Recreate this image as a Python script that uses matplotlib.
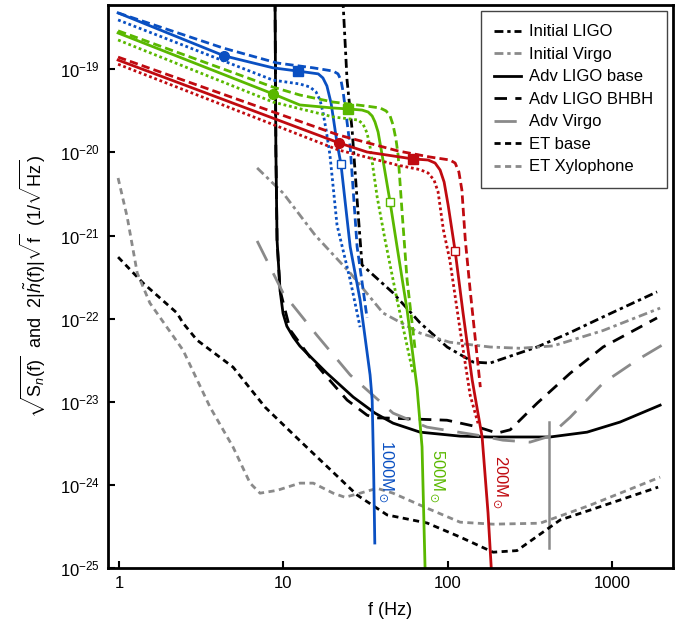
import numpy as np
import matplotlib
matplotlib.use("Agg")
import matplotlib.pyplot as plt

plt.rcParams['font.family'] = ['Liberation Sans', 'DejaVu Sans']
plt.rcParams['font.size'] = 12
plt.rcParams['mathtext.fontset'] = 'custom'
plt.rcParams['mathtext.rm'] = 'Liberation Sans'
plt.rcParams['mathtext.it'] = 'Liberation Sans:italic'
plt.rcParams['mathtext.default'] = 'regular'

# ── detector noise curves: sqrt(S_n(f)) ──────────────────────────────
f_ligo = [22.8, 24.4, 26.2, 28.1, 30.1, 46.5, 67.9, 99.2, 143, 181, 350, 556, 883, 1880]
h_ligo = [1e-18, 7.4e-20, 1.86e-20, 2.67e-21, 4.43e-22, 2.04e-22, 8.9e-23, 4.56e-23,
          3.0e-23, 2.92e-23, 4.56e-23, 6.8e-23, 1.05e-22, 2.1e-22]

f_virgo = [6.92, 9.96, 15.6, 25.5, 40.4, 67.9, 103, 181, 276, 438, 883, 1963]
h_virgo = [6.5e-21, 3.24e-21, 1.01e-21, 3.54e-22, 1.17e-22, 6.7e-23, 5.2e-23, 4.56e-23,
           4.4e-23, 4.7e-23, 7.2e-23, 1.34e-22]

f_aligo = [8.85, 8.9, 9.0, 9.15, 9.54, 9.95, 10.5, 11.5, 12.6, 13.9, 18.4, 26.6, 36.1, 46.5,
           67.9, 119, 181, 420, 705, 1119, 1963]
h_aligo = [1e-17, 6e-19, 1.06e-20, 8.8e-22, 2.2e-22, 1.16e-22, 8.1e-23, 5.98e-23, 4.68e-23,
           3.84e-23, 2.21e-23, 1.14e-23, 7.3e-24, 5.53e-24, 4.31e-24, 3.86e-24, 3.77e-24,
           3.77e-24, 4.31e-24, 5.7e-24, 9.1e-24]

f_bhbh = [8.85, 8.9, 9.0, 9.15, 9.54, 11.0, 14.5, 18.4, 24.4, 32.3, 36.1, 42.8, 99,
          151, 200, 240, 350, 556, 883, 1880]
h_bhbh = [1e-17, 6e-19, 1.06e-20, 8.8e-22, 2.2e-22, 7.3e-23, 3.45e-23, 1.98e-23, 1.05e-23,
          6.9e-24, 6.4e-24, 6.37e-24, 6.0e-24, 5.0e-24, 4.2e-24, 4.6e-24, 9.6e-24, 2.2e-23,
          4.56e-23, 1.02e-22]

f_avirgo = [6.92, 9.96, 16.0, 25.5, 46.5, 74.9, 151, 217, 317, 403, 414, 556, 883, 1422, 2017]
h_avirgo = [8.6e-22, 2.03e-22, 6.3e-23, 2.1e-23, 7.3e-24, 4.95e-24, 3.97e-24, 3.45e-24,
            3.27e-24, 3.77e-24, 3.85e-24, 6.5e-24, 1.68e-23, 3.18e-23, 4.8e-23]
# narrow line feature in the Adv Virgo curve
f_avirgo_notch = [414, 414]
h_avirgo_notch = [5.7e-24, 1.74e-25]

f_et = [0.986, 1.40, 2.25, 2.45, 2.98, 4.94, 7.74, 12.6, 28.1, 42.8, 74.9, 119, 189,
        264, 483, 736, 1909]
h_et = [5.5e-22, 2.68e-22, 1.17e-22, 8.85e-23, 5.52e-23, 2.61e-23, 8.6e-24, 3.4e-24,
        7.55e-25, 4.35e-25, 3.48e-25, 2.36e-25, 1.55e-25, 1.62e-25, 3.78e-25, 4.98e-25,
        9.4e-25]

f_xylo = [0.986, 1.12, 1.29, 1.54, 2.45, 3.58, 4.94, 6.27, 7.21, 9.16, 12.6, 15.2, 20.1,
          23.7, 29.3, 37.2, 46.5, 74.9, 119, 189, 365, 736, 1963]
h_xylo = [4.92e-21, 1.67e-21, 3.53e-22, 1.54e-22, 4.18e-23, 8.6e-24, 2.85e-24, 1.05e-24,
          7.95e-25, 8.6e-25, 1.05e-24, 1.05e-24, 7.95e-25, 7.1e-25, 7.95e-25, 9.1e-25,
          7.95e-25, 5.25e-25, 3.56e-25, 3.37e-25, 3.46e-25, 5.7e-25, 1.24e-24]

# ── signals 2|h(f)|sqrt(f) for three total masses ──────────────────
# 1000 Msun
f_b_sol = [0.986, 4.36, 8.65, 12.3, 16.3, 17.4, 18.4, 19.5, 20.3, 21.2, 22.4, 25.5, 29.3,
           33.7, 34.7, 35.4, 36.0]
h_b_sol = [4.76e-19, 1.45e-19, 1.04e-19, 9.5e-20, 8.8e-20, 7.86e-20, 6.3e-20, 3.93e-20,
           2.32e-20, 1.30e-20, 7.25e-21, 7.3e-22, 1.67e-22, 2.1e-23, 1.05e-23, 1.6e-24, 2.0e-25]
f_b_dsh = [0.986, 4.30, 9.15, 15.2, 20.1, 21.5, 22.4, 23.1, 24.1, 25.5, 28.1, 32.3]
h_b_dsh = [4.76e-19, 1.80e-19, 1.19e-19, 1.04e-19, 9.5e-20, 8.8e-20, 7.4e-20, 5.33e-20,
           2.82e-20, 1.16e-20, 7.3e-22, 1.02e-22]
f_b_dot = [0.986, 8.65, 12.6, 14.5, 15.8, 16.7, 17.4, 18.2, 19.2, 21.2, 25.5, 29.3]
h_b_dot = [3.92e-19, 7.4e-20, 6.65e-20, 6.12e-20, 5.33e-20, 4.27e-20, 3.06e-20, 1.86e-20,
           9.3e-21, 1.34e-21, 2.92e-22, 7.9e-23]

# 500 Msun
f_g_sol = [0.986, 8.65, 12.6, 20.1, 24.8, 30.1, 32.8, 34.7, 36.1, 37.7, 39.9, 44.6, 49.2,
           56.6, 65.1, 69.8, 72.8, 73.0]
h_g_sol = [2.73e-19, 5.05e-20, 3.72e-20, 3.42e-20, 3.33e-20, 3.23e-20, 3.06e-20, 2.74e-20,
           2.32e-20, 1.76e-20, 9.3e-21, 2.53e-21, 7.3e-22, 1.27e-22, 1.47e-23, 2.86e-24,
           1.02e-25, 5e-26]
f_g_dsh = [0.986, 8.65, 12.6, 20.1, 32.3, 38.8, 42.2, 44.6, 46.5, 48.5, 49.9, 52.8, 56.6, 63.2]
h_g_dsh = [2.9e-19, 6.1e-20, 4.9e-20, 4.03e-20, 3.6e-20, 3.42e-20, 3.15e-20, 2.74e-20,
           2.14e-20, 1.41e-20, 9.3e-21, 1.88e-21, 2.92e-22, 4.45e-23]
f_g_dot = [0.986, 8.65, 20.1, 25.5, 28.5, 30.5, 32.3, 33.7, 37.2, 41.6, 49.2, 61.5]
h_g_dot = [2.25e-19, 4.03e-20, 2.67e-20, 2.52e-20, 2.45e-20, 2.2e-20, 1.71e-20, 1.16e-20,
           2.92e-21, 8.8e-22, 1.68e-22, 2.22e-23]

# 200 Msun
f_r_sol = [0.986, 21.8, 32.3, 51.3, 61.5, 76, 83.8, 89.9, 95.1, 100.6, 111, 124, 141, 162,
           176, 184, 184.5]
h_r_sol = [1.29e-19, 1.30e-20, 1.01e-20, 8.8e-21, 8.34e-21, 8.1e-21, 7.45e-21, 6.14e-21,
           4.4e-21, 2.33e-21, 6.5e-22, 1.17e-22, 1.82e-23, 3.77e-24, 4.6e-25, 1.02e-25, 5e-26]
f_r_dsh = [0.986, 21.6, 49.9, 78, 103, 111, 117, 122, 128, 137, 158]
h_r_dsh = [1.40e-19, 1.62e-20, 1.04e-20, 8.8e-21, 8.1e-21, 7.45e-21, 5.8e-21, 3.52e-21,
           8.8e-22, 2.2e-22, 1.5e-23]
f_r_dot = [0.986, 21.6, 49.2, 67.9, 76, 82.6, 87.4, 94.2, 103, 119, 137, 153]
h_r_dot = [1.15e-19, 1.07e-20, 7.05e-21, 6.2e-21, 5.65e-21, 4.65e-21, 3.34e-21, 1.16e-21,
           5.07e-22, 7.3e-23, 1.2e-23, 5.5e-24]

# markers on the solid curves: filled circle, filled square, open square
mk_b_f = [4.36, 12.3, 22.4]
mk_b_h = [1.45e-19, 9.5e-20, 7.25e-21]
mk_g_f = [8.65, 24.8, 44.6]
mk_g_h = [5.05e-20, 3.33e-20, 2.53e-21]
mk_r_f = [21.8, 61.5, 111]
mk_r_h = [1.30e-20, 8.34e-21, 6.5e-22]

mass_labels = ['1000M$_\\odot$', '500M$_\\odot$', '200M$_\\odot$']
label_f = [42.0, 86.2, 208]
label_h = [1.43e-24, 1.28e-24, 1.08e-24]

blue, green, red = '#0a50c2', '#5ab800', '#c00a10'
gray = '#8a8a8a'

fig = plt.figure(figsize=(6.83, 6.24), dpi=100)
ax = fig.add_axes([0.158, 0.0897, 0.827, 0.902])

lw = 2.0
dashdot = (0, (3.2, 1.4, 1.2, 1.4))
ax.plot(f_ligo, h_ligo, color='black', lw=lw, ls=dashdot, label='Initial LIGO')
ax.plot(f_virgo, h_virgo, color=gray, lw=lw, ls=dashdot, label='Initial Virgo')
ax.plot(f_aligo, h_aligo, color='black', lw=lw, ls='-', label='Adv LIGO base')
ax.plot(f_bhbh, h_bhbh, color='black', lw=lw, ls=(0, (4.5, 3)), label='Adv LIGO BHBH')
ax.plot(f_avirgo, h_avirgo, color=gray, lw=lw, ls=(0, (8, 5)), label='Adv Virgo')
ax.plot(f_avirgo_notch, h_avirgo_notch, color=gray, lw=1.8, ls='-')
ax.plot(f_et, h_et, color='black', lw=lw, ls=(0, (2.2, 1.6)), label='ET base')
ax.plot(f_xylo, h_xylo, color=gray, lw=lw, ls=(0, (2.2, 1.6)), label='ET Xylophone')

sets = [
    (blue, f_b_sol, h_b_sol, f_b_dsh, h_b_dsh, f_b_dot, h_b_dot, mk_b_f, mk_b_h),
    (green, f_g_sol, h_g_sol, f_g_dsh, h_g_dsh, f_g_dot, h_g_dot, mk_g_f, mk_g_h),
    (red, f_r_sol, h_r_sol, f_r_dsh, h_r_dsh, f_r_dot, h_r_dot, mk_r_f, mk_r_h),
]
for c, fs, hs, fd, hd, fo, ho, mf, mh in sets:
    ax.plot(fd, hd, color=c, lw=lw, ls=(0, (3, 1.5)))
    ax.plot(fo, ho, color=c, lw=lw, ls=(0, (1, 1)))
    ax.plot(fs, hs, color=c, lw=lw, ls='-')
    ax.plot(mf[0], mh[0], 'o', color=c, ms=7)
    ax.plot(mf[1], mh[1], 's', color=c, ms=7)
    ax.plot(mf[2], mh[2], 's', mfc='white', mec=c, mew=1.0, ms=6)

for txt, fx, hy, c in zip(mass_labels, label_f, label_h, [blue, green, red]):
    ax.text(fx, hy, txt, color=c, rotation=-90, ha='center', va='center', fontsize=12)

ax.set_xscale('log')
ax.set_yscale('log')
ax.set_xlim(0.855, 2343)
ax.set_ylim(1e-25, 5.9e-19)
ax.set_xticks([1, 10, 100, 1000])
ax.set_xticklabels(['1', '10', '100', '1000'])
ax.set_yticks([10.0 ** k for k in range(-25, -18)])
ax.minorticks_off()
ax.tick_params(direction='in', length=5, width=1.5, top=False, right=False, labelsize=12, pad=6)
for s in ax.spines.values():
    s.set_linewidth(2)

ax.set_xlabel('f (Hz)', fontsize=13, labelpad=8)
ax.set_ylabel(r'$\sqrt{S_{\mathit{n}}(f)}$  and  $2|\tilde{\mathit{h}}(f)|\sqrt{f}$  $(1/\sqrt{Hz})$',
              fontsize=13, labelpad=8)

leg = ax.legend(loc='upper right', fontsize=12, handlelength=1.6, handletextpad=0.5,
                borderaxespad=0.35, labelspacing=0.45, fancybox=False, framealpha=1,
                edgecolor='#444444', borderpad=0.8)
leg.get_frame().set_linewidth(1.0)

fig.savefig('out.png', dpi=100)
